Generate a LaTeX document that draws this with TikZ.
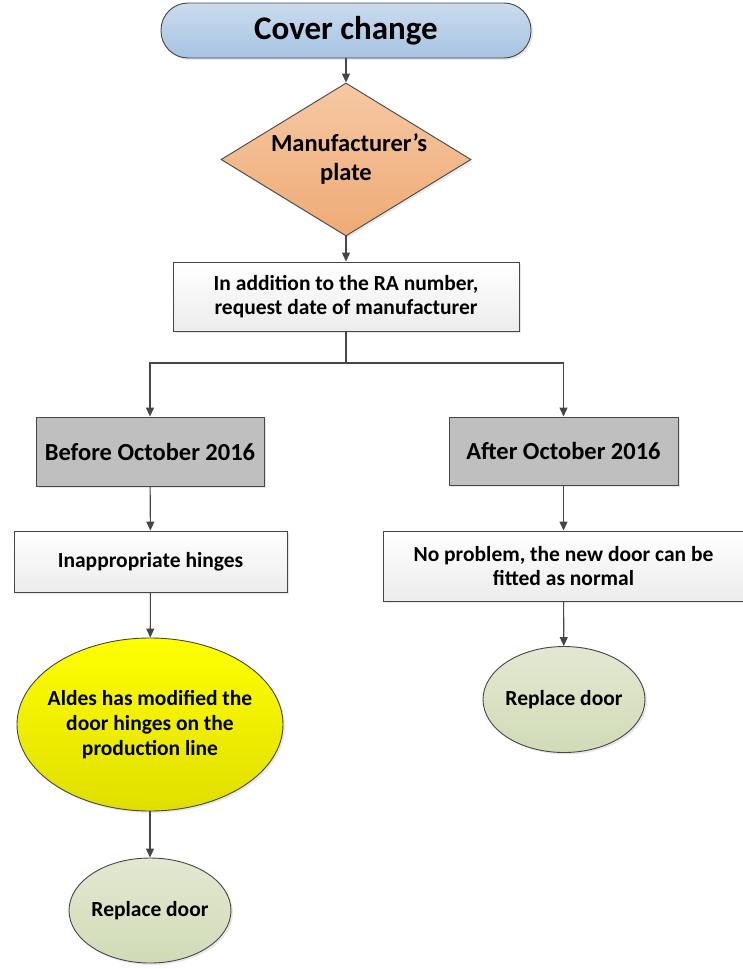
\documentclass[tikz,border=0pt]{standalone}
\usepackage{fontspec}
\setmainfont{Carlito}
\usetikzlibrary{arrows.meta,shapes.geometric,shadows}

\definecolor{lineGray}{RGB}{70,70,70}
\definecolor{termTop}{RGB}{202,220,238}
\definecolor{termBot}{RGB}{166,195,226}
\definecolor{diaTop}{RGB}{245,200,163}
\definecolor{diaBot}{RGB}{239,170,118}
\definecolor{boxBot}{RGB}{236,236,236}
\definecolor{dateGray}{RGB}{191,191,191}
\definecolor{yelTop}{RGB}{255,255,0}
\definecolor{yelBot}{RGB}{224,222,0}
\definecolor{grnTop}{RGB}{227,232,209}
\definecolor{grnBot}{RGB}{209,219,183}

\tikzset{
  base/.style={draw=lineGray, line width=0.9pt, inner sep=0pt, align=center,
    font=\bfseries, drop shadow={opacity=0.18, shadow xshift=2pt, shadow yshift=-2pt}},
  terminal/.style={base, rectangle, rounded corners=27pt, top color=termTop, bottom color=termBot},
  decision/.style={base, diamond, aspect=1.63, top color=diaTop, bottom color=diaBot},
  process/.style={base, rectangle, top color=white, bottom color=boxBot},
  datebox/.style={base, rectangle, fill=dateGray},
  highlight/.style={base, ellipse, inner xsep=-12pt, top color=yelTop, bottom color=yelBot},
  endstate/.style={base, ellipse, inner xsep=-4pt, top color=grnTop, bottom color=grnBot},
  flow/.style={draw=lineGray, line width=1.1pt, -{Triangle[length=9pt,width=8pt]}},
  bodytext/.style={font=\bfseries\fontsize{21.5}{24}\selectfont}
}

\begin{document}
\begin{tikzpicture}[x=1pt, y=-1pt]
    \useasboundingbox (0,0) rectangle (742,969);

    % Start
    \node[terminal, minimum width=370pt, minimum height=55pt, font=\bfseries\fontsize{33}{38}\selectfont]
        (cover) at (346,30.5) {Cover change};

    % Plate check
    \node[decision, minimum width=250pt, minimum height=153pt, text width=150pt,
        font=\bfseries\fontsize{24.5}{29}\selectfont]
        (plate) at (346,159.5) {Manufacturer’s\\plate};

    \node[process, minimum width=346pt, minimum height=69pt, bodytext]
        (request) at (346,296.5) {In addition to the RA number,\\request date of manufacturer};
    \coordinate (split) at (346,363);

    % Two date branches
    \node[datebox, minimum width=228pt, minimum height=69pt, font=\bfseries\fontsize{24.5}{28}\selectfont]
        (before) at (150,451.5) {Before October 2016};
    \node[datebox, minimum width=229pt, minimum height=68pt, font=\bfseries\fontsize{24.5}{28}\selectfont]
        (after) at (563.5,451) {After October 2016};

    % Left branch
    \node[process, minimum width=273pt, minimum height=61pt, bodytext]
        (hinges) at (150.5,561.5) {Inappropriate hinges};
    \node[highlight, minimum width=266pt, minimum height=173pt, font=\bfseries\fontsize{21.5}{25}\selectfont]
        (aldes) at (150,724.5) {Aldes has modified the\\door hinges on the\\production line};
    \node[endstate, minimum width=162pt, minimum height=105pt, bodytext]
        (replaceL) at (150,910.5) {Replace door};

    % Right branch
    \node[process, minimum width=361pt, minimum height=70pt, bodytext]
        (noproblem) at (563.5,566) {No problem, the new door can be\\fitted as normal};
    \node[endstate, minimum width=162pt, minimum height=106pt, bodytext]
        (replaceR) at (564,699.5) {Replace door};

    % Connectors
    \draw[flow] (cover) -- (plate);
    \draw[flow] (plate) -- (request);
    \draw[draw=lineGray, line width=1.1pt] (request) -- (split);
    \draw[flow] (split) -| (before);
    \draw[flow] (split) -| (after);
    \draw[flow] (before) -- (hinges);
    \draw[flow] (hinges) -- (aldes);
    \draw[flow] (aldes) -- (replaceL);
    \draw[flow] (after) -- (noproblem);
    \draw[flow] (noproblem) -- (replaceR);
\end{tikzpicture}
\end{document}
